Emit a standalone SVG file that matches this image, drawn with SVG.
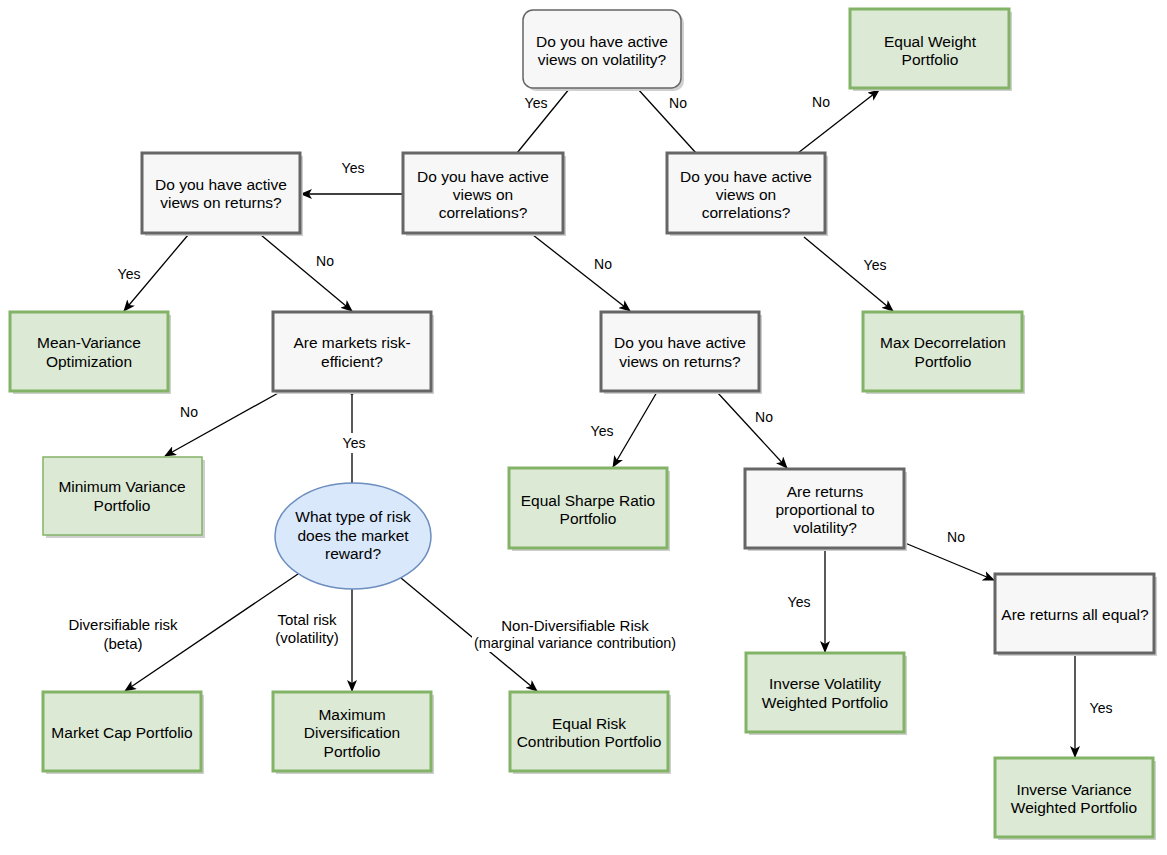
<svg xmlns="http://www.w3.org/2000/svg" width="1167" height="855" viewBox="0 0 1167 855">
<style>
text{font-family:"Liberation Sans",Arial,Helvetica,sans-serif;fill:#000;text-anchor:middle}
.n{font-size:15.5px}
.l{font-size:14px}
.lb{font-size:15px}
.q{fill:#f7f7f7;stroke:#666666;stroke-width:3}
.g{fill:#dce9d5;stroke:#82b366;stroke-width:3}
.g1{fill:#dce9d5;stroke:#82b366;stroke-width:1.5}
.sh{fill:#cfcfcf}
.e{fill:none;stroke:#000;stroke-width:1.3}
.a{marker-end:url(#arr)}
.bg{fill:#fff}
</style>
<defs>
<marker id="arr" markerUnits="userSpaceOnUse" viewBox="0 0 12 10" refX="11" refY="5" markerWidth="12" markerHeight="10" orient="auto">
<path d="M0,0 L12,5 L0,10 L3,5 z" fill="#000"/>
</marker>
</defs>
<rect width="1167" height="855" fill="#fff"/>

<g id="connectors">
<line class="e" x1="570" y1="88" x2="517" y2="153"/>
<line class="e" x1="637" y1="88" x2="696" y2="153"/>
<line class="e a" x1="798" y1="153" x2="879" y2="90"/>
<line class="e a" x1="804" y1="237" x2="893" y2="311"/>
<line class="e a" x1="403" y1="194" x2="301" y2="194"/>
<line class="e a" x1="188" y1="235" x2="124" y2="311"/>
<line class="e a" x1="261" y1="235" x2="352" y2="311"/>
<line class="e a" x1="533" y1="235" x2="630" y2="311"/>
<line class="e a" x1="280" y1="392" x2="165" y2="456"/>
<line class="e" x1="352" y1="392" x2="352" y2="483"/>
<rect x="350.5" y="390.5" width="3" height="4" fill="#000"/>
<line class="e a" x1="298" y1="574" x2="125" y2="691"/>
<line class="e a" x1="352" y1="589" x2="352" y2="691"/>
<line class="e a" x1="401" y1="578" x2="537" y2="691"/>
<line class="e a" x1="657" y1="392" x2="613" y2="467"/>
<line class="e a" x1="717" y1="392" x2="787" y2="468"/>
<line class="e a" x1="825" y1="549" x2="825" y2="652"/>
<line class="e a" x1="905" y1="543" x2="994" y2="580"/>
<line class="e a" x1="1075" y1="655" x2="1075" y2="757"/>

<text class="l" x="536" y="108">Yes</text>
<text class="l" x="678" y="108">No</text>
<text class="l" x="821" y="107">No</text>
<text class="l" x="875" y="270">Yes</text>
<text class="l" x="353" y="173">Yes</text>
<text class="l" x="129" y="279">Yes</text>
<text class="l" x="325" y="266">No</text>
<text class="l" x="603" y="269">No</text>
<text class="l" x="189" y="417">No</text>
<rect class="bg" x="338" y="433" width="30" height="20"/>
<text class="l" x="354" y="448">Yes</text>
<text class="lb" x="123" y="630">Diversifiable risk</text>
<text class="lb" x="123" y="649">(beta)</text>
<text class="lb" x="307" y="625">Total risk</text>
<text class="lb" x="307" y="643">(volatility)</text>
<rect class="bg" x="472" y="614" width="206" height="38"/>
<text class="lb" x="575" y="631">Non-Diversifiable Risk</text>
<text class="lb" x="575" y="648" textLength="202" lengthAdjust="spacingAndGlyphs">(marginal variance contribution)</text>
<text class="l" x="602" y="436">Yes</text>
<text class="l" x="764" y="422">No</text>
<text class="l" x="799" y="607">Yes</text>
<text class="l" x="956" y="542">No</text>
<text class="l" x="1101" y="713">Yes</text>
</g>

<g id="q-volatility">
<rect class="sh" x="526" y="13" width="158" height="78" rx="10"/>
<rect x="523" y="10" width="158" height="78" rx="10" fill="#f7f7f7" stroke="#666666" stroke-width="1.5"/>
<text class="n" x="602" y="47">Do you have active</text>
<text class="n" x="602" y="65">views on volatility?</text>
</g>

<g id="q-corr-left">
<rect class="sh" x="406" y="156" width="160" height="80"/>
<rect class="q" x="403" y="153" width="160" height="80"/>
<text class="n" x="483" y="182">Do you have active</text>
<text class="n" x="483" y="200">views on</text>
<text class="n" x="483" y="218">correlations?</text>
</g>

<g id="q-corr-right">
<rect class="sh" x="670" y="156" width="158" height="80"/>
<rect class="q" x="667" y="153" width="158" height="80"/>
<text class="n" x="746" y="182">Do you have active</text>
<text class="n" x="746" y="200">views on</text>
<text class="n" x="746" y="218">correlations?</text>
</g>

<g id="equal-weight">
<rect class="sh" x="853" y="12" width="159" height="79"/>
<rect class="g" x="850" y="9" width="159" height="79"/>
<text class="n" x="930" y="47">Equal Weight</text>
<text class="n" x="930" y="65">Portfolio</text>
</g>

<g id="max-decorrelation">
<rect class="sh" x="866" y="315" width="159" height="79"/>
<rect class="g" x="863" y="312" width="159" height="79"/>
<text class="n" x="943" y="348">Max Decorrelation</text>
<text class="n" x="943" y="367">Portfolio</text>
</g>

<g id="q-returns-left">
<rect class="sh" x="145" y="156" width="158" height="80"/>
<rect class="q" x="142" y="153" width="158" height="80"/>
<text class="n" x="221" y="190">Do you have active</text>
<text class="n" x="221" y="208">views on returns?</text>
</g>

<g id="mean-variance">
<rect class="sh" x="13" y="315" width="158" height="79"/>
<rect class="g" x="10" y="312" width="158" height="79"/>
<text class="n" x="89" y="348">Mean-Variance</text>
<text class="n" x="89" y="367">Optimization</text>
</g>

<g id="q-risk-efficient">
<rect class="sh" x="276" y="315" width="158" height="79"/>
<rect class="q" x="273" y="312" width="158" height="79"/>
<text class="n" x="352" y="348">Are markets risk-</text>
<text class="n" x="352" y="367">efficient?</text>
</g>

<g id="minimum-variance">
<rect class="sh" x="46" y="460" width="159" height="78"/>
<rect class="g1" x="43" y="457" width="159" height="78"/>
<text class="n" x="122" y="492">Minimum Variance</text>
<text class="n" x="122" y="511">Portfolio</text>
</g>

<g id="q-risk-type">
<ellipse cx="353" cy="536" rx="78" ry="53" fill="#dae8fc" stroke="#6c8ebf" stroke-width="1.5"/>
<text class="n" x="353" y="522">What type of risk</text>
<text class="n" x="353" y="541">does the market</text>
<text class="n" x="353" y="559">reward?</text>
</g>

<g id="market-cap">
<rect class="sh" x="46" y="695" width="158" height="79"/>
<rect class="g" x="43" y="692" width="158" height="79"/>
<text class="n" x="122" y="738">Market Cap Portfolio</text>
</g>

<g id="max-diversification">
<rect class="sh" x="276" y="695" width="158" height="79"/>
<rect class="g" x="273" y="692" width="158" height="79"/>
<text class="n" x="352" y="720">Maximum</text>
<text class="n" x="352" y="738">Diversification</text>
<text class="n" x="352" y="757">Portfolio</text>
</g>

<g id="equal-risk">
<rect class="sh" x="513" y="695" width="158" height="79"/>
<rect class="g" x="510" y="692" width="158" height="79"/>
<text class="n" x="589" y="729">Equal Risk</text>
<text class="n" x="589" y="747">Contribution Portfolio</text>
</g>

<g id="q-returns-right">
<rect class="sh" x="604" y="315" width="158" height="79"/>
<rect class="q" x="601" y="312" width="158" height="79"/>
<text class="n" x="680" y="348">Do you have active</text>
<text class="n" x="680" y="367">views on returns?</text>
</g>

<g id="equal-sharpe">
<rect class="sh" x="512" y="471" width="158" height="80"/>
<rect class="g" x="509" y="468" width="158" height="80"/>
<text class="n" x="588" y="506">Equal Sharpe Ratio</text>
<text class="n" x="588" y="524">Portfolio</text>
</g>

<g id="q-proportional">
<rect class="sh" x="748" y="472" width="159" height="79"/>
<rect class="q" x="745" y="469" width="159" height="79"/>
<text class="n" x="825" y="497">Are returns</text>
<text class="n" x="825" y="515">proportional to</text>
<text class="n" x="825" y="533">volatility?</text>
</g>

<g id="q-all-equal">
<rect class="sh" x="998" y="577" width="159" height="79"/>
<rect class="q" x="995" y="574" width="159" height="79"/>
<text class="n" x="1075" y="620">Are returns all equal?</text>
</g>

<g id="inverse-volatility">
<rect class="sh" x="749" y="656" width="158" height="79"/>
<rect class="g" x="746" y="653" width="158" height="79"/>
<text class="n" x="825" y="689">Inverse Volatility</text>
<text class="n" x="825" y="708">Weighted Portfolio</text>
</g>

<g id="inverse-variance">
<rect class="sh" x="998" y="761" width="158" height="79"/>
<rect class="g" x="995" y="758" width="158" height="79"/>
<text class="n" x="1074" y="795">Inverse Variance</text>
<text class="n" x="1074" y="813">Weighted Portfolio</text>
</g>
</svg>
